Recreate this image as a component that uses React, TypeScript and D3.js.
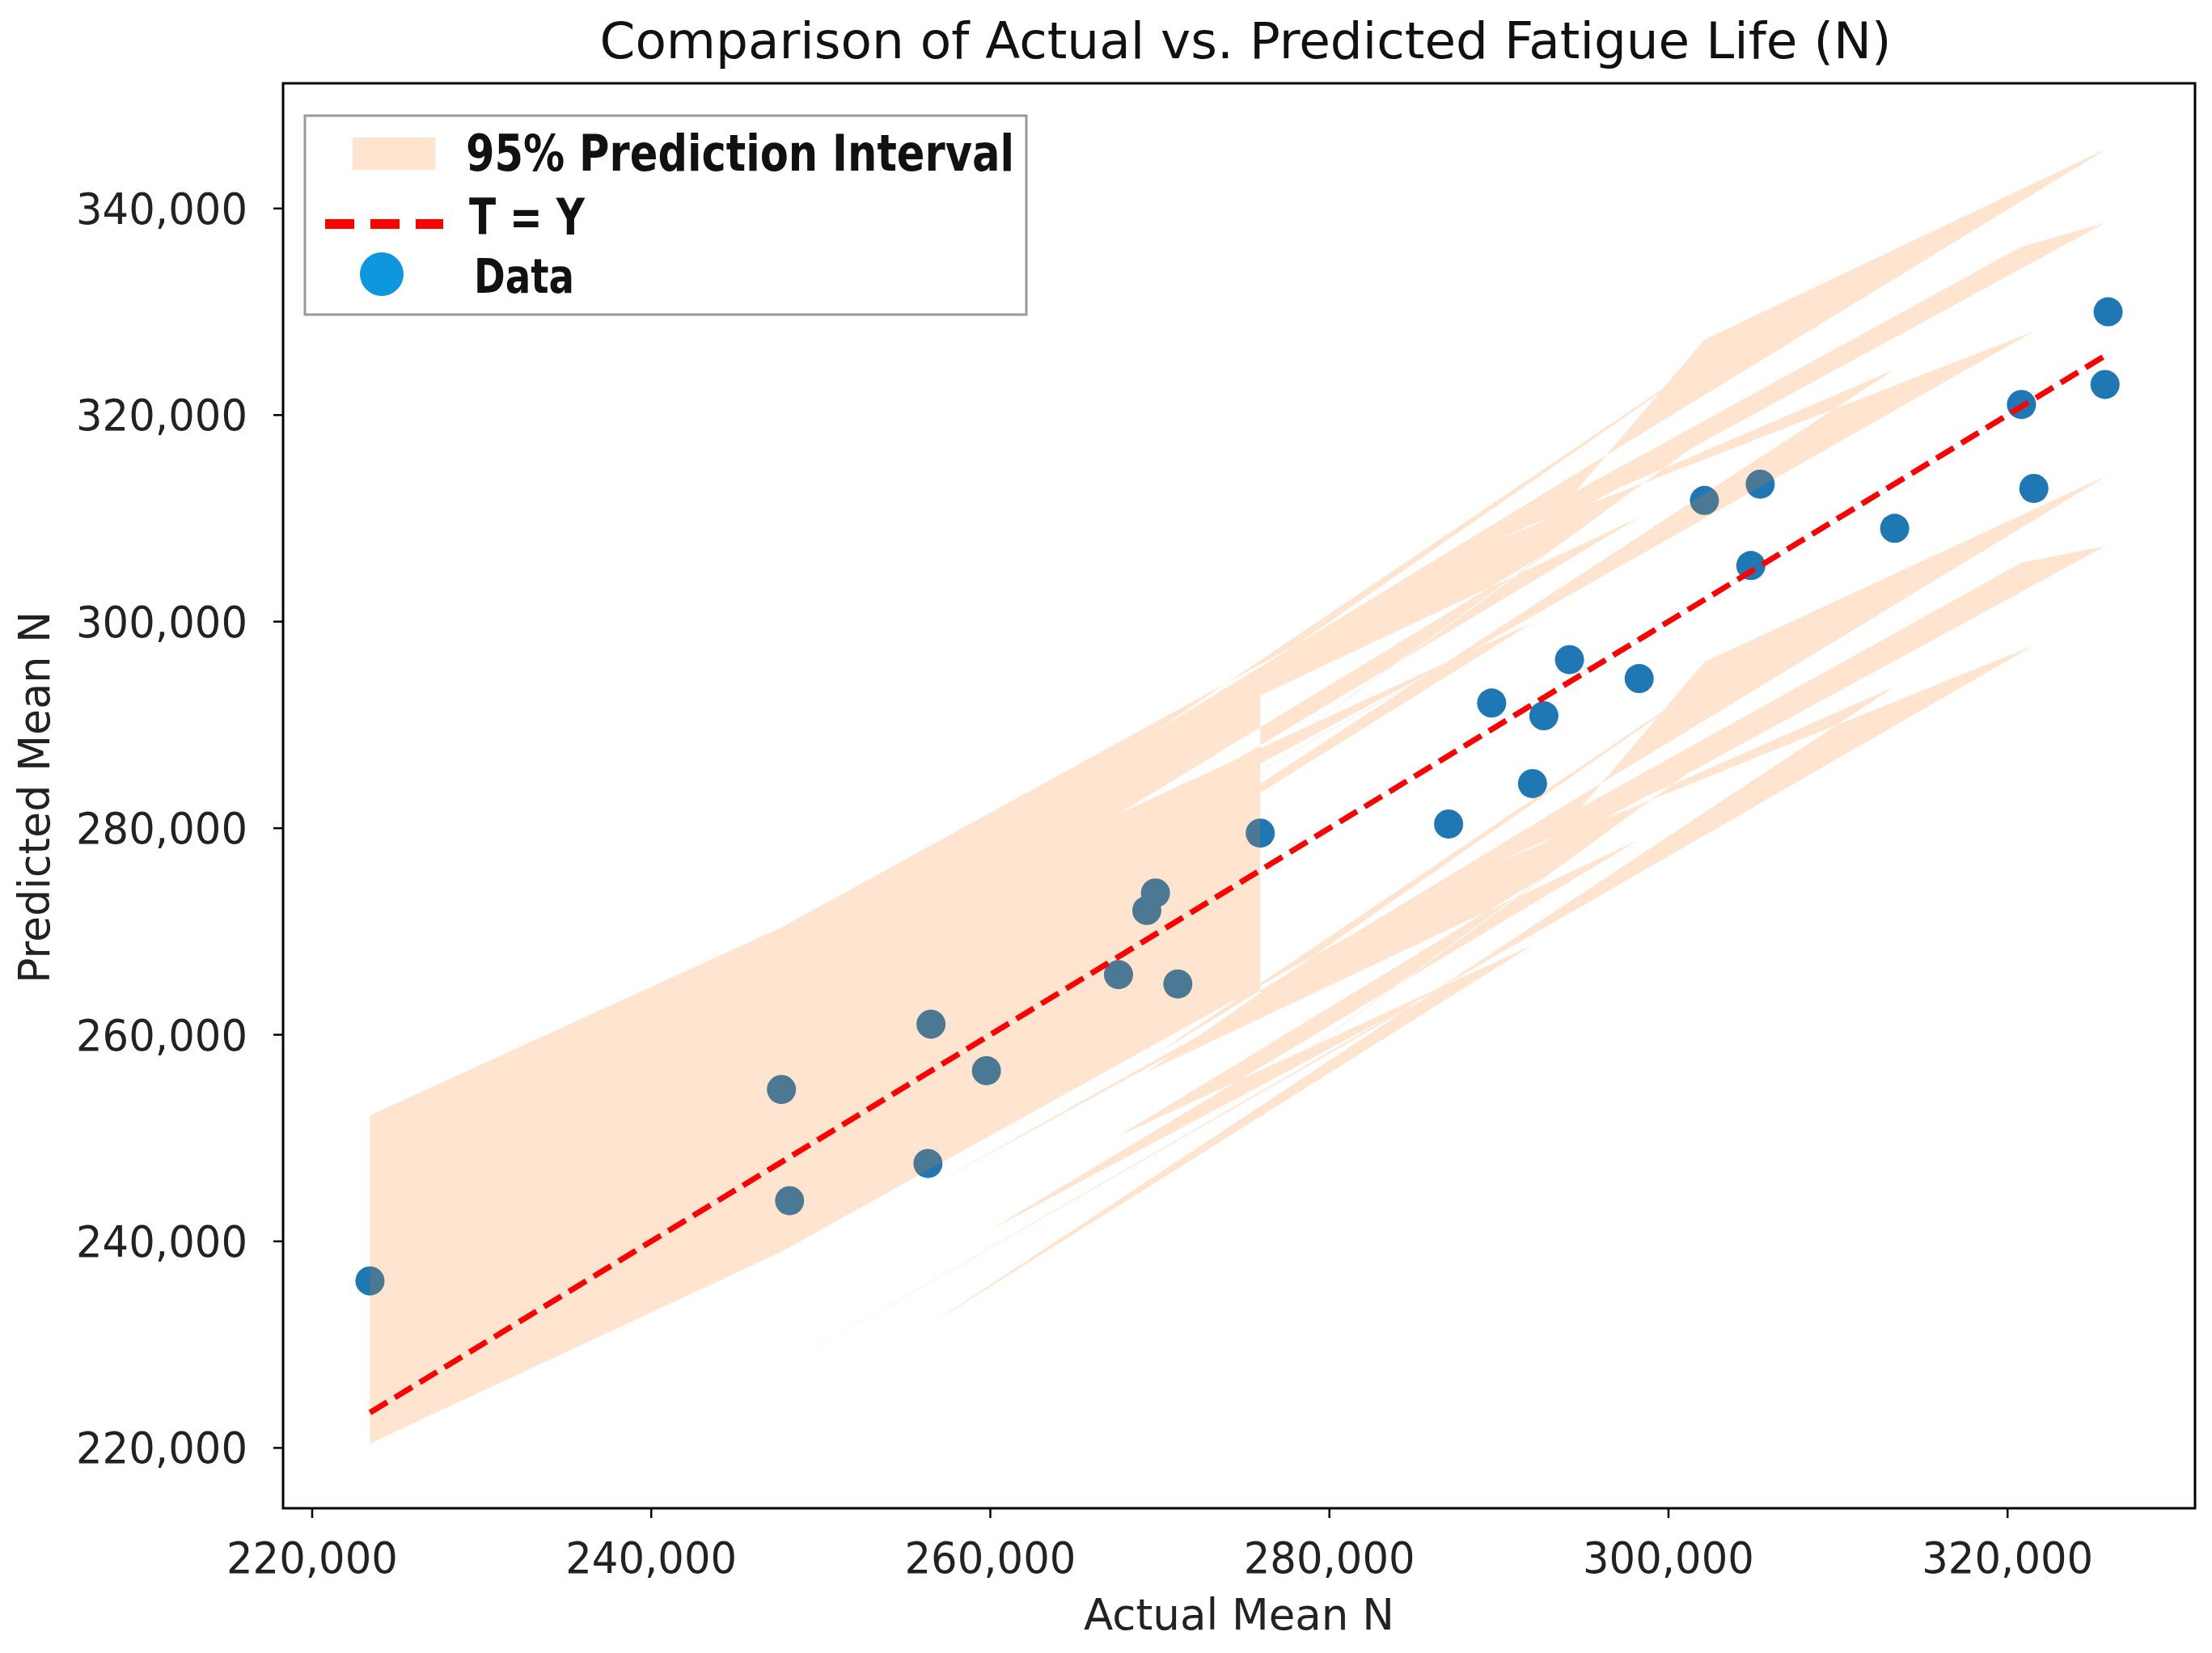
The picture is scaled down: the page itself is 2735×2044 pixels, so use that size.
import React from "react";
import * as d3 from "d3";

// Values in the order they were plotted (the band is a fill between in this order)
const actualMean = [275920, 294160, 302120, 325930, 269740, 305410, 269230, 298270, 259770, 287030, 248160, 321550, 289570, 313340, 256320, 291980, 267560, 292650, 271060, 304860, 256500, 325750, 320820, 247680, 223410];
const predictedMean = [279520, 296320, 311730, 330000, 273730, 313310, 272040, 294490, 256520, 280400, 243940, 312900, 292120, 309030, 247540, 284320, 265820, 290890, 264920, 305430, 261030, 322960, 321020, 254700, 236170];
const piLower = [263900, 280700, 296100, 314200, 258100, 297700, 256400, 278900, 240900, 264800, 228200, 297700, 276500, 293700, 231800, 268700, 250200, 275300, 249300, 289800, 245400, 307300, 305700, 239000, 220430];
const piUpper = [295200, 311900, 327300, 345850, 289400, 328900, 287700, 310100, 272100, 296000, 259700, 328100, 307700, 324400, 263300, 299900, 281400, 306500, 280500, 321000, 276700, 338600, 336300, 270400, 252200];

const xTicks = [220000, 240000, 260000, 280000, 300000, 320000];
const yTicks = [220000, 240000, 260000, 280000, 300000, 320000, 340000];

const titleText = "Comparison of Actual vs. Predicted Fatigue Life (N)";
const xLabel = "Actual Mean N";
const yLabel = "Predicted Mean N";
const legendLabels = ["95% Prediction Interval", "T = Y", "Data"];

const W = 2735;
const H = 2044;
const L = 350, R = 2714, T = 103, B = 1865;
const FONT = "'DejaVu Sans', sans-serif";

function padExt(lo: number, hi: number): [number, number] {
  const r = hi - lo;
  return [lo - 0.05 * r, hi + 0.05 * r];
}

export default function App() {
  const xExt = d3.extent(actualMean) as [number, number];
  const yLo = Math.min(d3.min(piLower)!, d3.min(predictedMean)!);
  const yHi = Math.max(d3.max(piUpper)!, d3.max(predictedMean)!);
  const x = d3.scaleLinear().domain(padExt(xExt[0], xExt[1])).range([L, R]);
  const y = d3.scaleLinear().domain(padExt(yLo, yHi)).range([B, T]);
  const fmt = d3.format(",");

  const idx = actualMean.map((_, i) => i);
  const band = d3
    .area<number>()
    .x((i) => x(actualMean[i]))
    .y0((i) => y(piLower[i]))
    .y1((i) => y(piUpper[i]))(idx) as string;

  const lineMin = xExt[0];
  const lineMax = xExt[1];

  return (
    <svg
      width={W}
      height={H}
      viewBox={`0 0 ${W} ${H}`}
      style={{ position: "absolute", left: 0, top: 0, background: "#fff" }}
      fontFamily={FONT}
    >
      <rect x={0} y={0} width={W} height={H} fill="#fff" />
      {/* data points */}
      <g>
        {idx.map((i) => (
          <circle key={i} cx={x(actualMean[i])} cy={y(predictedMean[i])} r={18} fill="#1f77b4" />
        ))}
      </g>
      {/* 95% prediction interval (fill between, in data order) */}
      <path d={band} fill="#ff7f0e" fillOpacity={0.2} fillRule="nonzero" />
      {/* T = Y reference line */}
      <line
        x1={x(lineMin)}
        y1={y(lineMin)}
        x2={x(lineMax)}
        y2={y(lineMax)}
        stroke="#ff0000"
        strokeWidth={7}
        strokeDasharray="25 11"
      />
      {/* frame */}
      <rect x={L} y={T} width={R - L} height={B - T} fill="none" stroke="#000" strokeWidth={3} />
      {/* x axis */}
      {xTicks.map((t) => (
        <g key={"x" + t}>
          <line x1={x(t)} x2={x(t)} y1={B} y2={B + 12} stroke="#000" strokeWidth={2.5} />
          <text x={x(t)} y={1945} textAnchor="middle" fontSize={54} fill="#222" textLength={212} lengthAdjust="spacingAndGlyphs">
            {fmt(t)}
          </text>
        </g>
      ))}
      {/* y axis */}
      {yTicks.map((t) => (
        <g key={"y" + t}>
          <line x1={L - 12} x2={L} y1={y(t)} y2={y(t)} stroke="#000" strokeWidth={2.5} />
          <text x={306} y={y(t) + 19} textAnchor="end" fontSize={54} fill="#222" textLength={212} lengthAdjust="spacingAndGlyphs">
            {fmt(t)}
          </text>
        </g>
      ))}
      <text x={(L + R) / 2} y={2015} textAnchor="middle" fontSize={54} fill="#222" textLength={384} lengthAdjust="spacingAndGlyphs">
        {xLabel}
      </text>
      <text transform={`translate(61, 986) rotate(-90)`} textAnchor="middle" fontSize={54} fill="#222" textLength={460} lengthAdjust="spacingAndGlyphs">
        {yLabel}
      </text>
      <text x={1540} y={72} textAnchor="middle" fontSize={62} fill="#111" textLength={1597} lengthAdjust="spacingAndGlyphs">
        {titleText}
      </text>
      {/* legend */}
      <g>
        <rect x={377} y={143} width={892} height={246} fill="#fff" fillOpacity={0.85} stroke="#999" strokeWidth={3} />
        <rect x={436} y={170} width={102} height={40} fill="#ff7f0e" fillOpacity={0.2} />
        <text x={576} y={211} fontSize={62} fill="#111" fontWeight="bold" textLength={678} lengthAdjust="spacingAndGlyphs">
          {legendLabels[0]}
        </text>
        <line x1={402} x2={548} y1={277} y2={277} stroke="#ff0000" strokeWidth={12} strokeDasharray="36 20" />
        <text x={580} y={290} fontSize={62} fill="#111" fontWeight="bold" textLength={143} lengthAdjust="spacingAndGlyphs">
          {legendLabels[1]}
        </text>
        <circle cx={472} cy={339} r={27} fill="#0f97de" />
        <text x={586} y={362} fontSize={58} fill="#111" fontWeight="bold" textLength={124} lengthAdjust="spacingAndGlyphs">
          {legendLabels[2]}
        </text>
      </g>
    </svg>
  );
}
